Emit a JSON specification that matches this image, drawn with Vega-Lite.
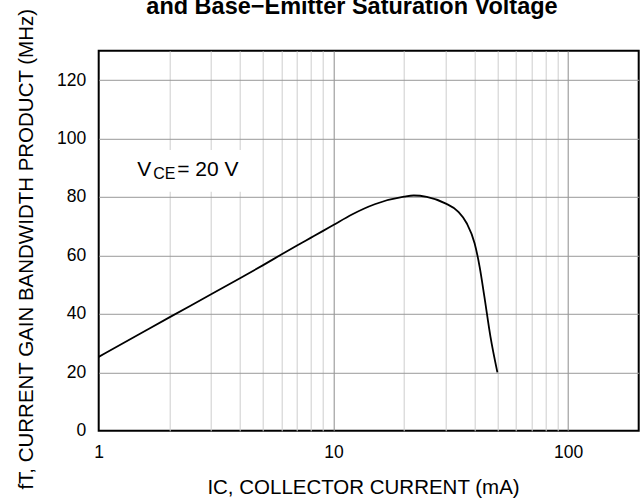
{
  "$schema": "https://vega.github.io/schema/vega-lite/v6.json",
  "width": 540,
  "height": 380,
  "autosize": {"type": "none"},
  "padding": {"left": 98.7, "top": 50.8, "right": 2.3, "bottom": 73.3},
  "background": "white",
  "config": {
    "view": {"stroke": "black", "strokeWidth": 2},
    "font": "Liberation Sans"
  },
  "title": {
    "text": "and Base−Emitter Saturation Voltage",
    "font": "Liberation Sans",
    "fontSize": 23.5,
    "fontWeight": "bold",
    "color": "black",
    "baseline": "alphabetic",
    "anchor": "middle",
    "offset": 0,
    "dy": 30,
    "dx": -16.7
  },
  "datasets": {
    "curve": [
      {"ic": 1, "ft": 25.3},
      {"ic": 1.5, "ft": 33.2},
      {"ic": 2, "ft": 38.8},
      {"ic": 3, "ft": 46.6},
      {"ic": 4, "ft": 52.2},
      {"ic": 5, "ft": 56.6},
      {"ic": 6, "ft": 60.3},
      {"ic": 7, "ft": 63.4},
      {"ic": 8, "ft": 66.0},
      {"ic": 9, "ft": 68.3},
      {"ic": 10, "ft": 70.4},
      {"ic": 12, "ft": 74.0},
      {"ic": 15, "ft": 77.5},
      {"ic": 20, "ft": 80.1},
      {"ic": 22, "ft": 80.5},
      {"ic": 25, "ft": 80.0},
      {"ic": 30, "ft": 77.8},
      {"ic": 34, "ft": 75.0},
      {"ic": 37, "ft": 71.0},
      {"ic": 40, "ft": 64.1},
      {"ic": 42, "ft": 56.1},
      {"ic": 44, "ft": 45.9},
      {"ic": 46.7, "ft": 32.2},
      {"ic": 50, "ft": 20}
    ]
  },
  "layer": [
    {
      "data": {"name": "curve"},
      "mark": {"type": "line", "color": "black", "strokeWidth": 1.8, "interpolate": "monotone"},
      "encoding": {
        "x": {
          "field": "ic",
          "type": "quantitative",
          "scale": {"type": "log", "domain": [1, 200], "nice": false},
          "axis": {
            "values": [1, 2, 3, 4, 5, 6, 7, 8, 9, 10, 20, 30, 40, 50, 60, 70, 80, 90, 100, 200],
            "labelExpr": "datum.value == 1 || datum.value == 10 || datum.value == 100 ? format(datum.value, 'd') : ''",
            "grid": true,
            "gridColor": {"condition": {"test": "datum.value == 10 || datum.value == 100", "value": "#8c8c8c"}, "value": "#cdcdcd"},
            "gridOpacity": {"condition": {"test": "datum.value == 1 || datum.value == 200", "value": 0}, "value": 1},
            "gridWidth": 1,
            "ticks": false,
            "domain": false,
            "labelFont": "Liberation Sans",
            "labelFontSize": 17.5,
            "labelColor": "black",
            "labelPadding": 13,
            "labelFlush": false,
            "labelOverlap": false,
            "title": "IC, COLLECTOR CURRENT (mA)",
            "titleFont": "Liberation Sans",
            "titleFontSize": 20.5,
            "titleFontWeight": "normal",
            "titleColor": "black",
            "titleBaseline": "alphabetic",
            "titleX": 264.3,
            "titleY": 62.6
          }
        },
        "y": {
          "field": "ft",
          "type": "quantitative",
          "scale": {"domain": [0, 130], "nice": false, "zero": true},
          "axis": {
            "values": [0, 10, 20, 30, 40, 50, 60, 70, 80, 90, 100, 110, 120, 130],
            "labelExpr": "datum.value % 20 == 0 && datum.value <= 120 ? format(datum.value, 'd') : ''",
            "grid": true,
            "gridColor": {"condition": {"test": "datum.value % 20 == 0", "value": "#999999"}, "value": "#d2d2d2"},
            "gridOpacity": {"condition": {"test": "datum.value == 0 || datum.value == 130", "value": 0}, "value": 1},
            "gridWidth": 1,
            "ticks": false,
            "domain": false,
            "labelFont": "Liberation Sans",
            "labelFontSize": 17.5,
            "labelColor": "black",
            "labelPadding": 13,
            "labelFlush": false,
            "labelOverlap": false,
            "title": "fT, CURRENT GAIN BANDWIDTH PRODUCT (MHz)",
            "titleFont": "Liberation Sans",
            "titleFontSize": 20.5,
            "titleFontWeight": "normal",
            "titleColor": "black",
            "titleBaseline": "alphabetic",
            "titleAngle": 270,
            "titleX": -66,
            "titleY": 198
          }
        }
      }
    },
    {
      "data": {"values": [{}]},
      "mark": {"type": "rect", "fill": "white", "stroke": null},
      "encoding": {
        "x": {"datum": 1.294},
        "x2": {"datum": 4.47},
        "y": {"datum": 81.8},
        "y2": {"datum": 96.06}
      }
    },
    {
      "data": {"values": [{}]},
      "mark": {"type": "text", "text": "V", "font": "Liberation Sans", "fontSize": 21, "align": "left", "baseline": "alphabetic", "color": "black"},
      "encoding": {"x": {"datum": 1.46}, "y": {"datum": 87.17}}
    },
    {
      "data": {"values": [{}]},
      "mark": {"type": "text", "text": "CE", "font": "Liberation Sans", "fontSize": 16, "align": "left", "baseline": "alphabetic", "color": "black"},
      "encoding": {"x": {"datum": 1.707}, "y": {"datum": 86.04}}
    },
    {
      "data": {"values": [{}]},
      "mark": {"type": "text", "text": "= 20 V", "font": "Liberation Sans", "fontSize": 21, "align": "left", "baseline": "alphabetic", "color": "black"},
      "encoding": {"x": {"datum": 2.161}, "y": {"datum": 87.17}}
    }
  ]
}
